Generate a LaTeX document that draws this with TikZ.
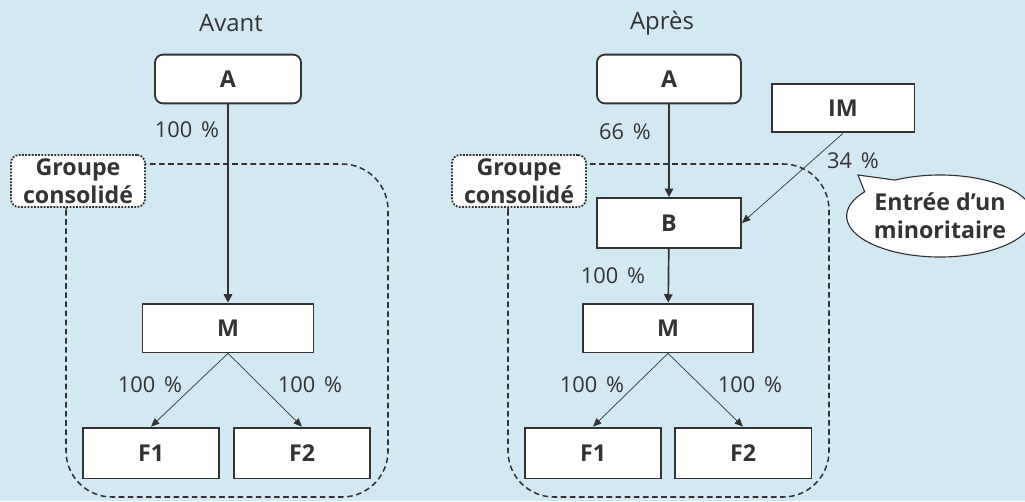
\documentclass[tikz,border=0pt]{standalone}
\usepackage{fontspec}
\setmainfont{Open Sans}
\usetikzlibrary{arrows.meta,shapes.callouts}
\definecolor{fondbleu}{HTML}{D2E9F4}
\definecolor{trait}{HTML}{333333}
\newcommand{\pct}[1]{#1\hspace{0.4em}\%}
\begin{document}
\begin{tikzpicture}[x=0.025cm, y=-0.025cm,
  font=\fontsize{15.5}{18}\selectfont, text=trait,
  boite/.style={draw=trait, line width=1.3pt, fill=white, font=\fontsize{16.5}{19}\selectfont\bfseries, minimum height=1.22cm, inner sep=0pt},
  arrondie/.style={boite, rounded corners=0.2cm},
  groupe/.style={draw=trait, densely dotted, line width=1.3pt, fill=white, rounded corners=0.2cm, align=center, font=\fontsize{16.5}{20}\selectfont\bfseries, minimum width=3.35cm, minimum height=1.3cm, inner sep=0pt},
  zone/.style={draw=trait, dash pattern=on 4pt off 2.5pt, line width=1.1pt, rounded corners=1.15cm},
  gros/.style={-{Triangle[width=6pt,length=6pt]}, line width=1.2pt, draw=trait},
  fin/.style={-{Triangle[width=5pt,length=6pt]}, line width=0.5pt, draw=trait}]
\fill[fondbleu] (0,0) rectangle (1025,501);
\useasboundingbox (0,0) rectangle (1025,501);
\draw[zone] (66,164) rectangle (388,497);
\draw[zone] (508,164) rectangle (829,497);
\node[font=\fontsize{17}{20}\selectfont] (titreAvant) at (231,23) {Avant};
\node[font=\fontsize{17}{20}\selectfont] (titreApres) at (662,23) {Après};
\node[arrondie, minimum width=3.65cm] (leftA) at (228,79) {A};
\node[groupe] (leftG) at (78,181) {Groupe\\consolidé};
\node[boite, minimum width=4.27cm] (leftM) at (228,328) {M};
\node[boite, minimum width=3.4cm, minimum height=1.27cm] (leftF1) at (151,453) {F1};
\node[boite, minimum width=3.4cm, minimum height=1.27cm] (leftF2) at (302,453) {F2};
\node (leftP1) at (187,130) {\pct{100}};
\node (leftP2) at (150,385) {\pct{100}};
\node (leftP3) at (310,385) {\pct{100}};
\draw[gros] (leftA) -- (leftM);
\draw[fin] (leftM.south) -- (leftF1.north);
\draw[fin] (leftM.south) -- (leftF2.north);
\node[arrondie, minimum width=3.6cm] (rightA) at (669,79) {A};
\node[boite, minimum width=3.57cm] (rightIM) at (843,108) {IM};
\node[groupe] (rightG) at (519,181) {Groupe\\consolidé};
\node[boite, minimum width=3.6cm, minimum height=1.25cm] (rightB) at (669,223) {B};
\node[boite, minimum width=4.25cm] (rightM) at (668,328) {M};
\node[boite, minimum width=3.4cm, minimum height=1.27cm] (rightF1) at (593,453) {F1};
\node[boite, minimum width=3.42cm, minimum height=1.27cm] (rightF2) at (743,453) {F2};
\node (rightP1) at (625,132) {\pct{66}};
\node (rightP2) at (853,161) {\pct{34}};
\node (rightP3) at (613,276) {\pct{100}};
\node (rightP4) at (592,385) {\pct{100}};
\node (rightP5) at (750,385) {\pct{100}};
\coordinate (bulleBout) at (858,175);
\node[ellipse callout, draw=trait, line width=0.8pt, fill=white, align=center, font=\fontsize{16.5}{20}\selectfont\bfseries, minimum width=4.25cm, minimum height=2.05cm, inner sep=0pt, callout pointer arc=25, callout absolute pointer=(bulleBout)] (bulle) at (940,216) {Entrée d’un\\minoritaire};
\draw[gros] (rightA) -- (rightB);
\draw[gros] (rightB) -- (rightM);
\draw[fin] (rightIM.south) -- (rightB.east);
\draw[fin] (rightM.south) -- (rightF1.north);
\draw[fin] (rightM.south) -- (rightF2.north);
\end{tikzpicture}
\end{document}
